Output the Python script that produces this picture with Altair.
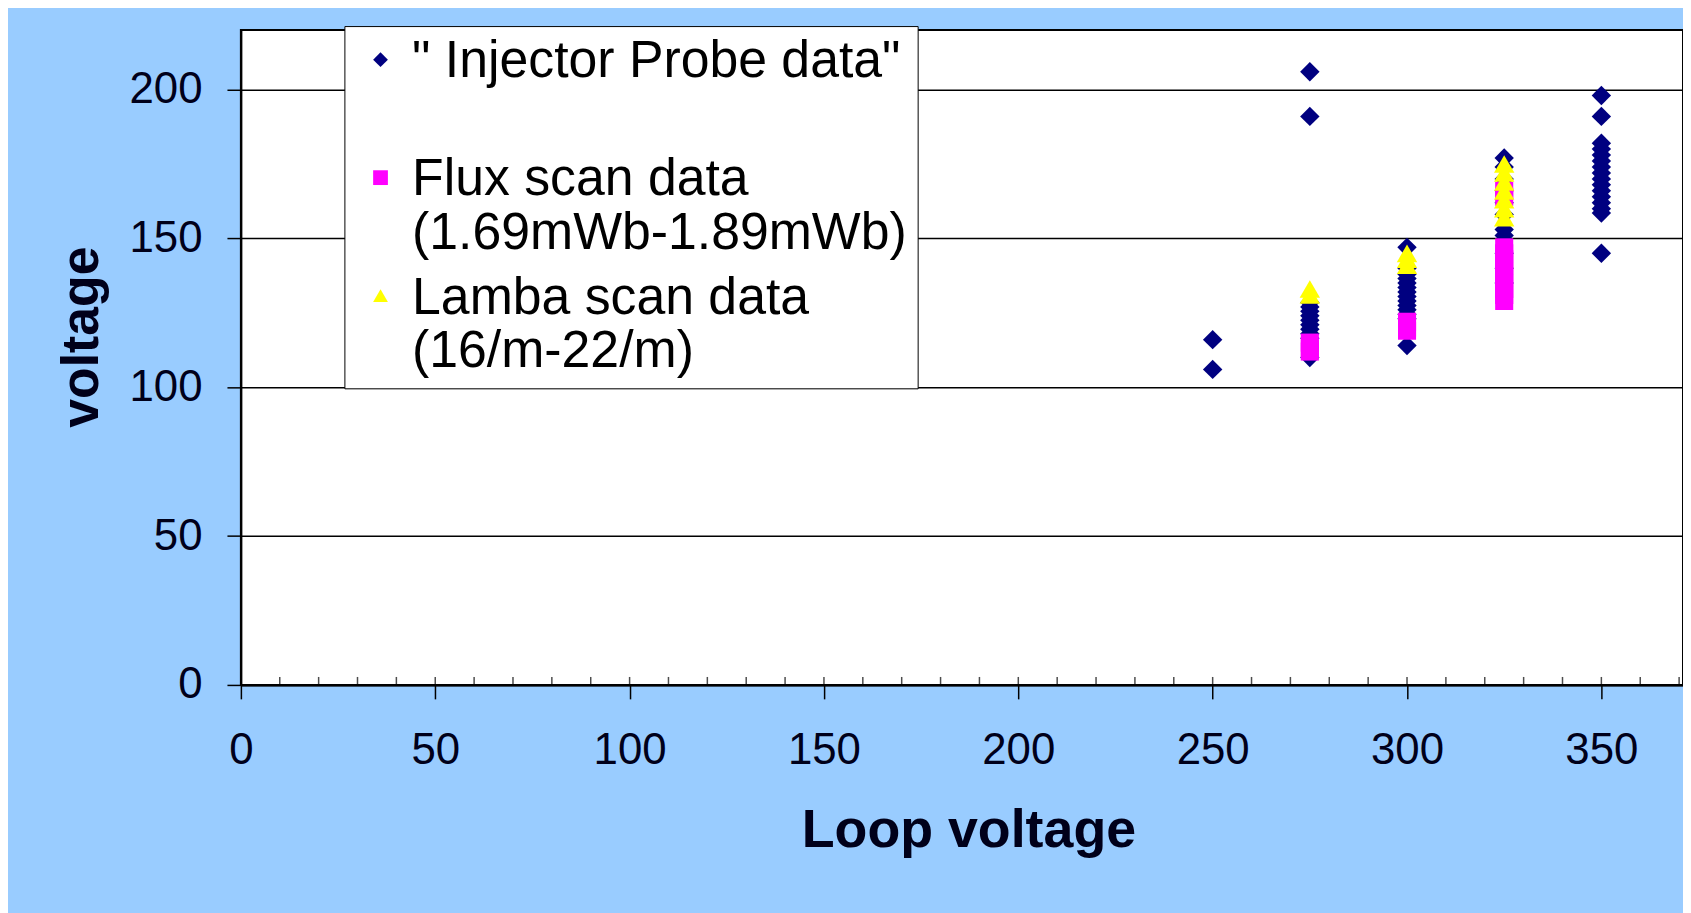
import json
import altair as alt
import pandas as pd

# ---------------- data ----------------
SERIES = ["Injector Probe data", "Flux scan data", "Lamba scan data"]
LEGEND_FIRST = ['" Injector Probe data"', "Flux scan data", "Lamba scan data"]
LEGEND_SECOND = [" ", "(1.69mWb-1.89mWb)", "(16/m-22/m)"]
COLORS = ["#000080", "#FF00FF", "#FFFF00"]
SHAPES = ["diamond", "square", "triangle-up"]

# " Injector Probe data" (navy diamonds)
injector_250 = [116, 106]
injector_275 = [206, 191, 128.5, 127, 125.5, 124, 122.5, 121, 119.5, 118, 116.5, 110]
injector_300 = [147, 140, 138, 136.5, 135, 133.5, 132, 130.5, 129, 127.5, 126, 124.5, 123, 114]
injector_325 = [177, 174, 170, 166, 162, 158, 153, 151, 145, 140, 135]
injector_350 = [198, 191, 182, 180, 178, 176, 174, 172, 170, 168, 166, 164, 162, 160, 158.5, 145]

# Flux scan data (magenta squares)
flux_275 = [115, 113, 112]
flux_300 = [122, 120, 119]
flux_325 = [166, 164, 147, 145, 143, 141, 139, 137, 135, 133, 131, 129]

# Lamba scan data (yellow triangles)
lamba_275 = [133, 131]
lamba_300 = [145, 143, 141]
lamba_325 = [175, 172, 169, 166, 163, 160, 157]

X_TICKS = [0, 50, 100, 150, 200, 250, 300, 350]
X_MINOR = [10, 20, 30, 40, 50, 60, 70, 80, 90, 100, 110, 120, 130, 140, 150, 160, 170,
           180, 190, 200, 210, 220, 230, 240, 250, 260, 270, 280, 290, 300, 310, 320,
           330, 340, 350, 360, 370]
Y_TICKS = [0, 50, 100, 150, 200]

# ---------------- build table ----------------
groups = [
    (0, {250: injector_250, 275: injector_275, 300: injector_300,
         325: injector_325, 350: injector_350}),
    (1, {275: flux_275, 300: flux_300, 325: flux_325}),
    (2, {275: lamba_275, 300: lamba_300, 325: lamba_325}),
]
rows = []
for i, d in groups:
    for lv, vals in d.items():
        for v in vals:
            rows.append({"series": SERIES[i], "label_key": LEGEND_FIRST[i],
                         "loop": lv, "volt": v})
df = pd.DataFrame(rows)
ticks_df = pd.DataFrame({"t": X_MINOR})

FONT = "Liberation Sans"
TXT = "#00001a"

label_expr = ""
for first, second in zip(LEGEND_FIRST[:-1], LEGEND_SECOND[:-1]):
    label_expr += f"datum.label === {json.dumps(first)} ? {json.dumps([first, second])} : "
label_expr += json.dumps([LEGEND_FIRST[-1], LEGEND_SECOND[-1]])

# legend with the white box and the (multi-line) texts
legend_text = alt.Legend(
    title=" ", titleFontSize=1, titlePadding=13, titleOpacity=0,
    orient="none", legendX=104, legendY=-4, zindex=0,
    fillColor="white", strokeColor="black", padding=11,
    labelFont=FONT, labelFontSize=52, labelColor="black", labelLimit=2000,
    labelBaseline="alphabetic", labelExpr=label_expr,
    symbolType="circle", symbolSize=100, symbolOpacity=0, symbolStrokeWidth=0,
    labelOffset=5, rowPadding=13,
)
# legend with the marker symbols only
legend_sym = alt.Legend(
    title=None, orient="none", legendX=132.8, legendY=22.3, zindex=1,
    padding=0, labelFontSize=1, labelOpacity=0, labelBaseline="middle",
    symbolSize=220, symbolStrokeWidth=0, symbolOpacity=1, rowPadding=103.5,
)

x_enc = alt.X(
    "loop:Q",
    scale=alt.Scale(domain=[0, 371], nice=False, zero=False),
    axis=alt.Axis(
        values=X_TICKS, grid=False, tickSize=14, tickWidth=1.5, tickColor="black",
        domainColor="black", domainWidth=2, labelFlush=False,
        labelFont=FONT, labelFontSize=44, labelColor=TXT, labelPadding=30,
        title="Loop voltage", titleFont=FONT, titleFontSize=54, titleFontWeight="bold",
        titleColor=TXT, titleX=731, titleY=162, titleAlign="center",
        titleBaseline="alphabetic",
    ),
)
y_enc = alt.Y(
    "volt:Q",
    scale=alt.Scale(domain=[0, 220], nice=False),
    axis=alt.Axis(
        values=Y_TICKS, grid=True, gridColor="black", gridWidth=1.5,
        tickSize=14, tickWidth=1.5, tickColor="black",
        domainColor="black", domainWidth=2, labelFlush=False,
        labelFont=FONT, labelFontSize=44, labelColor=TXT, labelPadding=25,
        title="voltage", titleFont=FONT, titleFontSize=52, titleFontWeight="bold",
        titleColor=TXT, titleX=-144, titleY=308, titleAlign="center",
        titleBaseline="alphabetic",
    ),
)
color_enc = alt.Color("series:N", scale=alt.Scale(domain=SERIES, range=COLORS), legend=legend_sym)
shape_enc = alt.Shape("series:N", scale=alt.Scale(domain=SERIES, range=SHAPES), legend=legend_sym)
dash_enc = alt.StrokeDash("label_key:N",
                          scale=alt.Scale(domain=LEGEND_FIRST, range=[[1, 0], [1, 0], [1, 0]]),
                          legend=legend_text)

base = alt.Chart(df)
layers = []
for name, sz in zip(SERIES, [380, 330, 420]):
    layers.append(
        base.transform_filter(alt.datum.series == name)
        .mark_point(filled=True, opacity=1, size=sz, strokeWidth=0)
        .encode(x=x_enc, y=y_enc, color=color_enc, shape=shape_enc, strokeDash=dash_enc)
    )

minor = alt.Chart(ticks_df).mark_tick(
    orient="vertical", size=8, thickness=1.5, color="black", yOffset=-4
).encode(x=alt.X("t:Q"), y=alt.datum(0))

chart = alt.layer(minor, *layers).properties(
    width=1449, height=658,
    padding={"left": 234, "top": 20, "right": 0, "bottom": 227},
    autosize=alt.AutoSizeParams(type="none"),
    background="#99CCFF",
).configure_view(fill="white", stroke="black", strokeWidth=2)

chart.save("out.html", embed_options={"renderer": "svg", "actions": False})
